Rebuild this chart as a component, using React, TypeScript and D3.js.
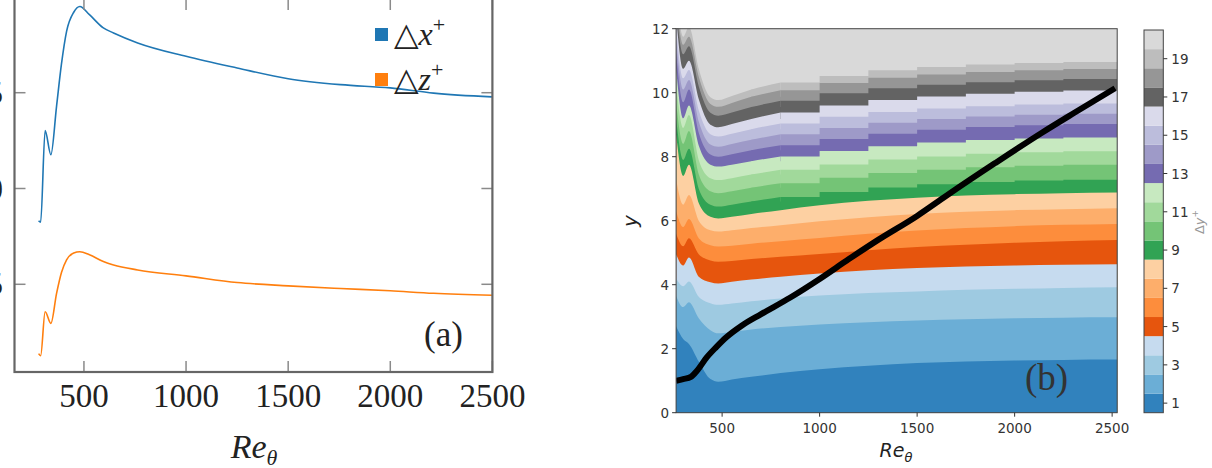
import React from "react";
import * as d3 from "d3";

const W = 1212;
const H = 468;

// ---- panel (a): grid spacing along the wall ----
const reA = [278, 288, 310, 338, 366, 390, 415, 450, 480, 527, 595, 645, 763, 1000, 1250, 1500, 1757, 2000, 2212, 2498];
const dxPlus = [8.32, 8.24, 13.02, 11.76, 14.3, 16.5, 18.2, 19.2, 19.5, 19.07, 18.38, 18.12, 17.6, 16.9, 16.29, 15.73, 15.42, 15.25, 14.98, 14.78];
const dzPlus = [1.38, 1.27, 3.57, 2.96, 4.53, 5.62, 6.28, 6.63, 6.7, 6.54, 6.19, 6.01, 5.75, 5.44, 5.09, 4.92, 4.78, 4.66, 4.53, 4.43];
const xTicksA = [500, 1000, 1500, 2000, 2500];
const yTicksA = [5, 10, 15];

// ---- panel (b): contour levels of dy+ ----
const reB = [264, 300, 330, 380, 440, 480, 550, 650, 800, 1000, 1250, 1500, 1750, 2000, 2250, 2526];
// y position of each level boundary (k + 0.5) at the reB stations
const b1 = [2.7, 2.3, 2.15, 1.6, 1.05, 0.97, 1.04, 1.12, 1.24, 1.36, 1.47, 1.55, 1.6, 1.63, 1.65, 1.66];
const b2 = [3.65, 3.3, 3.45, 2.95, 2.58, 2.48, 2.52, 2.6, 2.68, 2.76, 2.83, 2.88, 2.92, 2.95, 2.97, 2.98];
const b3 = [4.2, 3.95, 4.1, 3.62, 3.42, 3.37, 3.41, 3.48, 3.57, 3.66, 3.74, 3.79, 3.84, 3.87, 3.9, 3.92];
const b4 = [4.95, 4.6, 4.85, 4.25, 4.08, 4.04, 4.09, 4.16, 4.25, 4.35, 4.45, 4.52, 4.57, 4.6, 4.62, 4.64];
const b5 = [5.6, 5.2, 5.45, 4.95, 4.76, 4.72, 4.74, 4.8, 4.87, 4.96, 5.08, 5.18, 5.25, 5.31, 5.36, 5.4];
const b6 = [6.3, 5.8, 6.05, 5.45, 5.23, 5.19, 5.22, 5.28, 5.36, 5.46, 5.59, 5.69, 5.77, 5.83, 5.87, 5.9];
const b7 = [7.3, 6.5, 6.8, 6.0, 5.7, 5.66, 5.7, 5.77, 5.86, 5.98, 6.11, 6.21, 6.28, 6.33, 6.36, 6.39];
const b8 = [8.7, 7.4, 7.75, 6.55, 6.12, 6.07, 6.12, 6.21, 6.33, 6.48, 6.62, 6.72, 6.79, 6.83, 6.86, 6.88];
const b9 = [9.2, 7.9, 8.25, 7.0, 6.5, 6.44, 6.5, 6.6, 6.74, 6.9, 7.04, 7.14, 7.21, 7.26, 7.28, 7.3];
const b10 = [9.7, 8.4, 8.8, 7.45, 6.92, 6.86, 6.92, 7.03, 7.17, 7.34, 7.49, 7.59, 7.67, 7.72, 7.75, 7.77];
const b11 = [10.25, 8.9, 9.3, 7.9, 7.33, 7.27, 7.33, 7.44, 7.59, 7.76, 7.91, 8.01, 8.09, 8.14, 8.17, 8.19];
const b12 = [10.76, 9.2, 9.6, 8.35, 7.75, 7.69, 7.75, 7.86, 8.01, 8.18, 8.33, 8.44, 8.52, 8.57, 8.6, 8.61];
const b13 = [11.25, 9.7, 10.1, 8.75, 8.07, 8.0, 8.08, 8.2, 8.36, 8.55, 8.72, 8.84, 8.93, 8.98, 9.02, 9.04];
const b14 = [11.65, 10.1, 10.4, 9.1, 8.38, 8.31, 8.4, 8.53, 8.7, 8.9, 9.06, 9.18, 9.26, 9.31, 9.34, 9.36];
const b15 = [12.05, 10.45, 10.71, 9.45, 8.7, 8.63, 8.72, 8.86, 9.04, 9.25, 9.4, 9.51, 9.58, 9.63, 9.66, 9.67];
const b16 = [12.4, 10.75, 11.0, 9.8, 9.0, 8.92, 9.02, 9.18, 9.38, 9.6, 9.77, 9.88, 9.97, 10.03, 10.07, 10.1];
const b17 = [12.7, 11.2, 11.45, 10.2, 9.37, 9.28, 9.38, 9.55, 9.75, 9.98, 10.14, 10.25, 10.33, 10.39, 10.43, 10.45];
const b18 = [13.0, 11.5, 11.75, 10.5, 9.65, 9.56, 9.68, 9.87, 10.08, 10.3, 10.47, 10.57, 10.65, 10.7, 10.74, 10.76];
const b19 = [13.3, 11.75, 12.05, 10.75, 9.86, 9.77, 9.9, 10.1, 10.32, 10.52, 10.7, 10.8, 10.88, 10.93, 10.96, 10.97];
const boundaries = [b1, b2, b3, b4, b5, b6, b7, b8, b9, b10, b11, b12, b13, b14, b15, b16, b17, b18, b19];

// tab20c, level 1 .. 20
const levelColors = [
  "#3182bd", "#6baed6", "#9ecae1", "#c6dbef",
  "#e6550d", "#fd8d3c", "#fdae6b", "#fdd0a2",
  "#31a354", "#74c476", "#a1d99b", "#c7e9c0",
  "#756bb1", "#9e9ac8", "#bcbddc", "#dadaeb",
  "#636363", "#969696", "#bdbdbd", "#d9d9d9",
];
const levels = d3.range(1, 21);

// boundary layer edge (black line)
const reDelta = [264, 300, 340, 370, 420, 470, 520, 600, 700, 850, 1000, 1150, 1300, 1500, 1650, 1900, 2140, 2300, 2515];
const yDelta = [1.0, 1.05, 1.12, 1.3, 1.72, 2.05, 2.35, 2.72, 3.08, 3.6, 4.18, 4.8, 5.4, 6.15, 6.78, 7.8, 8.75, 9.35, 10.14];

const xTicksB = [500, 1000, 1500, 2000, 2500];
const yTicksB = [0, 2, 4, 6, 8, 10, 12];
const cbTicks = [1, 3, 5, 7, 9, 11, 13, 15, 17, 19];

const serif = "'Liberation Serif', 'DejaVu Serif', serif";
const sans = "'DejaVu Sans', sans-serif";

const PanelA = () => {
  const left = 14.5, right = 492.4, top = -2, bottom = 372;
  const x = d3.scaleLinear().domain([160, 2500]).range([left, right]);
  const y = d3.scaleLinear().domain([5, 15]).range([284.3, 92.7]);
  const line = d3
    .line<number>()
    .x((_, i) => x(reA[i]))
    .curve(d3.curveMonotoneX);
  const pathX = line.y((d) => y(d))(dxPlus);
  const pathZ = line.y((d) => y(d))(dzPlus);
  const tick = "#8a8a8a";
  return (
    <g>
      <path d={pathX || ""} fill="none" stroke="#1f77b4" strokeWidth={1.6} />
      <path d={pathZ || ""} fill="none" stroke="#ff7f0e" strokeWidth={1.6} />
      {xTicksA.map((t) => (
        <g key={t}>
          <line x1={x(t)} x2={x(t)} y1={bottom} y2={bottom - 11} stroke={tick} strokeWidth={1.5} />
          <line x1={x(t)} x2={x(t)} y1={top} y2={top + 12} stroke={tick} strokeWidth={1.5} />
          <text x={x(t)} y={407} textAnchor="middle" fontFamily={serif} fontSize={33} fill="#222">
            {t}
          </text>
        </g>
      ))}
      {yTicksA.map((t) => (
        <g key={t}>
          <line x1={left} x2={left + 11} y1={y(t)} y2={y(t)} stroke={tick} strokeWidth={1.5} />
          <line x1={right} x2={right - 11} y1={y(t)} y2={y(t)} stroke={tick} strokeWidth={1.5} />
          {/* labels sit mostly outside the cropped figure, as in the source */}
          <text x={3} y={y(t) + 11} textAnchor="end" fontFamily={serif} fontSize={33} fill="#222">
            {t}
          </text>
        </g>
      ))}
      <rect x={left} y={top} width={right - left} height={bottom - top} fill="none" stroke="#666" strokeWidth={2.2} />
      {/* legend */}
      <rect x={375} y={28} width={13} height={13} fill="#1f77b4" />
      <text x={394} y={45} fontFamily={serif} fontSize={32} fill="#222">
        △<tspan fontStyle="italic">x</tspan>
        <tspan fontSize={22} dy={-13}>+</tspan>
      </text>
      <rect x={375} y={73} width={13} height={13} fill="#ff7f0e" />
      <text x={394} y={90} fontFamily={serif} fontSize={32} fill="#222">
        △<tspan fontStyle="italic">z</tspan>
        <tspan fontSize={22} dy={-13}>+</tspan>
      </text>
      <text x={424} y={346} fontFamily={serif} fontSize={35} fill="#222">
        (a)
      </text>
      <text x={254} y={458} textAnchor="middle" fontFamily={serif} fontSize={34} fill="#222">
        <tspan fontStyle="italic">Re</tspan>
        <tspan fontStyle="italic" fontSize={22} dy={7}>θ</tspan>
      </text>
    </g>
  );
};

const PanelB = () => {
  const left = 676.1, right = 1117.2, top = 28.7, bottom = 412.7;
  const x = d3.scaleLinear().domain([264, 2526]).range([left, right]);
  const y = d3.scaleLinear().domain([0, 12]).range([bottom, top]);
  const makeArea = (curve: d3.CurveFactory) =>
    d3
      .area<[number, number]>()
      .x((d) => x(d[0]))
      .y0(y(0))
      .y1((d) => y(d[1]))
      .curve(curve);
  const smooth = makeArea(d3.curveMonotoneX);
  const stepped = makeArea(d3.curveStepAfter);
  // upper levels come from a coarse grid: stair-stepped past the dip.
  // the stepped piece starts one station early and sits under the smooth piece, so no seam shows
  const split = 8;
  const bandPaths = boundaries.map((b, i) => {
    const pts = b.map((v, j) => [reB[j], v] as [number, number]);
    if (i < 8) return [smooth(pts) || ""];
    return [stepped(pts.slice(split - 1)) || "", smooth(pts.slice(0, split + 1)) || ""];
  });
  const delta = d3
    .line<number>()
    .x((_, i) => x(reDelta[i]))
    .y((d) => y(d))
    .curve(d3.curveMonotoneX)(yDelta);

  const cbL = 1144, cbR = 1163.3;
  const yc = d3.scaleLinear().domain([0.5, 20.5]).range([412.7, 30]);

  return (
    <g>
      <defs>
        <clipPath id="plotB">
          <rect x={left} y={top} width={right - left} height={bottom - top} />
        </clipPath>
      </defs>
      <g clipPath="url(#plotB)">
        <rect x={left} y={top} width={right - left} height={bottom - top} fill={levelColors[19]} />
        {bandPaths
          .map((p, i) => ({ p, i }))
          .reverse()
          .map(({ p, i }) => (
            <g key={i} fill={levelColors[i]}>
              {p.map((d, j) => (
                <path key={j} d={d} />
              ))}
            </g>
          ))}
        <path d={delta || ""} fill="none" stroke="#000" strokeWidth={6} strokeLinejoin="round" />
      </g>
      <rect x={left} y={top} width={right - left} height={bottom - top} fill="none" stroke="#444" strokeWidth={1} />
      {xTicksB.map((t) => (
        <g key={t}>
          <line x1={x(t)} x2={x(t)} y1={bottom} y2={bottom + 4} stroke="#333" />
          <text x={x(t)} y={433} textAnchor="middle" fontFamily={sans} fontSize={13.5} fill="#333">
            {t}
          </text>
        </g>
      ))}
      {yTicksB.map((t) => (
        <g key={t}>
          <line x1={left - 4} x2={left} y1={y(t)} y2={y(t)} stroke="#333" />
          <text x={left - 7} y={y(t) + 5} textAnchor="end" fontFamily={sans} fontSize={13.5} fill="#333">
            {t}
          </text>
        </g>
      ))}
      <text
        transform={`translate(${637},${221}) rotate(-90)`}
        textAnchor="middle"
        fontFamily={sans}
        fontStyle="italic"
        fontSize={20}
        fill="#222"
      >
        y
      </text>
      <text x={896} y={457} textAnchor="middle" fontFamily={sans} fontSize={19} fill="#222">
        <tspan fontStyle="italic">Re</tspan>
        <tspan fontStyle="italic" fontSize={13} dy={5}>θ</tspan>
      </text>
      <text x={1025} y={390} fontFamily={serif} fontSize={37} fill="#333">
        (b)
      </text>
      {/* colorbar */}
      {levels.map((k, i) => (
        <rect key={k} x={cbL} y={yc(k + 0.5)} width={cbR - cbL} height={yc(k - 0.5) - yc(k + 0.5)} fill={levelColors[i]} />
      ))}
      <rect x={cbL} y={yc(20.5)} width={cbR - cbL} height={yc(0.5) - yc(20.5)} fill="none" stroke="#444" strokeWidth={1} />
      {cbTicks.map((t) => (
        <g key={t}>
          <line x1={cbR} x2={cbR + 4} y1={yc(t)} y2={yc(t)} stroke="#333" />
          <text x={cbR + 8} y={yc(t) + 5} fontFamily={sans} fontSize={13.5} fill="#333">
            {t}
          </text>
        </g>
      ))}
      <text
        transform={`translate(${1204},${222}) rotate(-90)`}
        textAnchor="middle"
        fontFamily={sans}
        fontSize={13}
        fill="#999"
      >
        Δ<tspan fontStyle="italic">y</tspan>
        <tspan fontSize={9} dy={-6}>+</tspan>
      </text>
    </g>
  );
};

export default function App() {
  return (
    <svg width={W} height={H} style={{ position: "absolute", left: 0, top: 0, background: "#fff" }}>
      <PanelA />
      <PanelB />
    </svg>
  );
}
